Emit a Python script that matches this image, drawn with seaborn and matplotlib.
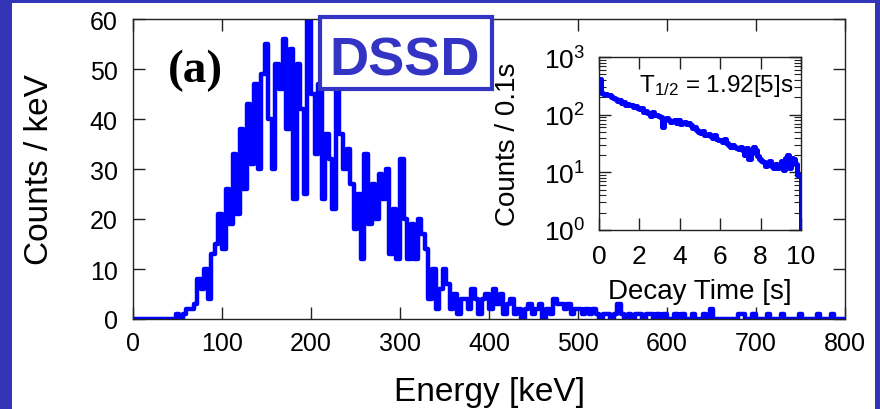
import numpy as np
import pandas as pd
import matplotlib
matplotlib.use("Agg")
import matplotlib.pyplot as plt
import seaborn as sns
from matplotlib.patches import Rectangle
from matplotlib.ticker import LogLocator, NullFormatter

# ---------------- data ----------------
energy_bin_kev = 4  # histogram bin width (keV)
energy_counts = [
    0, 0, 0, 0, 0, 0, 0, 0, 0, 0, 0, 0,                 # 0-48
    1, 0, 1, 2, 2, 3, 8, 6, 10, 4,                        # 48-88
    13, 15, 21, 14, 26, 19, 33, 21, 38, 26,               # 88-128
    43, 31, 47, 30, 49, 55, 40, 30, 51, 46,               # 128-168
    56, 38, 54, 24, 51, 42, 25, 60, 45, 33,               # 168-208
    47, 24, 37, 32, 22, 46, 37, 30, 34, 27,               # 208-248
    18, 25, 12, 33, 19, 27, 20, 29, 24, 30,               # 248-288
    13, 22, 12, 32, 20, 12, 19, 12, 20, 17,               # 288-328
    14, 4, 10, 2, 6, 10, 7, 2, 5, 1,                      # 328-368
    4, 4, 2, 6, 4, 1, 4, 5, 2, 6,                         # 368-408
    3, 5, 1, 3, 4, 1, 2, 0, 2, 3,                         # 408-448
    1, 2, 3, 0, 2, 1, 4, 3, 3, 2,                         # 448-488
    3, 1, 2, 2, 1, 2, 1, 2, 1, 0,                         # 488-528
    1, 1, 0, 1, 3, 1, 0, 1, 0, 1,                         # 528-568
    1, 0, 1, 1, 0, 1, 0, 1, 0, 0,                         # 568-608
    1, 0, 1, 0, 0, 1, 0, 0, 1, 0,                         # 608-648
    2, 0, 0, 0, 0, 0, 0, 0, 1, 1,                         # 648-688
    0, 0, 1, 0, 0, 0, 1, 0, 0, 0,                         # 688-728
    1, 0, 0, 0, 0, 1, 0, 0, 0, 0,                         # 728-768
    1, 0, 0, 0, 1, 0, 0, 0,                               # 768-800
]

time_bin_s = 0.1
decay_counts = [
    420, 240, 230, 225, 215, 220, 200, 195, 190, 175,
    180, 160, 165, 150, 155, 145, 150, 135, 140, 130,
    125, 130, 110, 115, 105, 95, 110, 100, 98, 95,
    90, 62, 85, 88, 80, 75, 78, 82, 72, 80,
    70, 72, 75, 68, 72, 65, 58, 60, 55, 50,
    48, 52, 45, 44, 46, 42, 40, 44, 38, 36,
    37, 34, 38, 32, 30, 28, 30, 27, 26, 25,
    28, 24, 20, 26, 17, 22, 28, 24, 19, 17,
    16, 15, 13, 14, 16, 13, 12, 14, 12, 13,
    16, 11, 18, 20, 12, 18, 17, 14, 9, 9,
]
decay_after_end = 0

main_xticks = [0, 100, 200, 300, 400, 500, 600, 700, 800]
main_yticks = [0, 10, 20, 30, 40, 50, 60]
inset_xticks = [0, 2, 4, 6, 8, 10]

# ---------------- style ----------------
sns.set_style("ticks")
plt.rcParams["font.family"] = ["Liberation Sans", "DejaVu Sans"]
plt.rcParams["mathtext.fontset"] = "custom"
plt.rcParams["mathtext.rm"] = "Liberation Sans"
plt.rcParams["mathtext.it"] = "Liberation Sans:italic"
plt.rcParams["mathtext.bf"] = "Liberation Sans:bold"
plt.rcParams["text.color"] = "black"
plt.rcParams["axes.labelcolor"] = "black"
plt.rcParams["xtick.labelcolor"] = "black"
plt.rcParams["ytick.labelcolor"] = "black"

BORDER = "#3434B6"
DSSD_C = "#3434C4"
LINE = "#0000FF"
SPINE = "#222222"

W, H = 880, 410
fig = plt.figure(figsize=(W / 100, H / 100), dpi=100, facecolor=BORDER)

# white slide area
fig.add_artist(Rectangle((12 / W, 0), (875 - 12) / W, (H - 4) / H,
                         transform=fig.transFigure, facecolor="white",
                         edgecolor="none", zorder=-5))

def fx(px):
    return px / W

def fy(py):
    return (H - py) / H

# ---------------- main axes ----------------
ax = fig.add_axes([fx(133), fy(320), fx(845) - fx(133), fy(20) - fy(320)])
ax.set_facecolor("white")

edges_E = np.arange(len(energy_counts) + 1) * energy_bin_kev
df_E = pd.DataFrame({"E": edges_E, "C": energy_counts + [energy_counts[-1]]})
sns.lineplot(data=df_E, x="E", y="C", ax=ax, drawstyle="steps-post",
             color=LINE, linewidth=3.2, estimator=None, sort=False)

ax.set_xlim(0, 800)
ax.set_ylim(0, 60)
ax.set_xticks(main_xticks)
ax.set_yticks(main_yticks)
for s in ax.spines.values():
    s.set_visible(True)
    s.set_color(SPINE)
    s.set_linewidth(1.0)
ax.tick_params(direction="in", top=True, right=True, length=8.5, width=1.0,
               color=SPINE, labelsize=18, labelcolor="black")
ax.tick_params(axis="x", pad=9)
ax.tick_params(axis="y", pad=11)
ax.set_xlabel("Energy [keV]", fontsize=24, color="black")
ax.set_ylabel("Counts / keV", fontsize=24, color="black")
ax.xaxis.set_label_coords(0.5, (320 - 377) / 300)
ax.yaxis.set_label_coords((55 - 133) / 712, 0.5)

# ---------------- inset axes ----------------
axi = fig.add_axes([fx(599), fy(231), fx(801) - fx(599), fy(58) - fy(231)])
axi.set_facecolor("white")
edges_t = np.round(np.arange(len(decay_counts) + 1) * time_bin_s, 3)
df_t = pd.DataFrame({"t": edges_t, "C": decay_counts + [decay_after_end]})
sns.lineplot(data=df_t, x="t", y="C", ax=axi, drawstyle="steps-post",
             color=LINE, linewidth=3.6, estimator=None, sort=False)
axi.set_yscale("log")
axi.set_xlim(0, 10)
axi.set_ylim(1, 1000)
axi.set_xticks(inset_xticks)
axi.yaxis.set_major_locator(LogLocator(base=10, numticks=10))
axi.yaxis.set_minor_locator(LogLocator(base=10, subs=np.arange(2, 10), numticks=20))
axi.yaxis.set_minor_formatter(NullFormatter())
for s in axi.spines.values():
    s.set_visible(True)
    s.set_color(SPINE)
    s.set_linewidth(1.0)
axi.tick_params(which="major", direction="in", top=True, right=True,
                length=8.5, width=1.0, color=SPINE, labelsize=19,
                labelcolor="black")
axi.tick_params(which="minor", direction="in", left=True, right=True,
                length=5, width=0.8, color=SPINE)
axi.tick_params(axis="x", pad=10)
axi.tick_params(axis="y", pad=10)
axi.set_xlabel("Decay Time [s]", fontsize=20, color="black")
axi.set_ylabel("Counts / 0.1s", fontsize=20, color="black")
axi.xaxis.set_label_coords(0.5, (231 - 279) / 173)
axi.yaxis.set_label_coords((521 - 599) / 202, 0.5)

# ---------------- annotations ----------------
fig.text(fx(793), fy(92), r"T$_{\mathdefault{1/2}}$ = 1.92[5]s", fontsize=17.5,
         ha="right", va="baseline", color="black", zorder=6)

fig.text(fx(168), fy(82), "(a)", fontsize=34, fontweight="bold",
         family=["Liberation Serif", "DejaVu Serif"], ha="left", va="baseline",
         color="black", zorder=6)

fig.add_artist(Rectangle((fx(320), fy(90)), fx(492) - fx(320), fy(18) - fy(90),
                         transform=fig.transFigure, facecolor="white",
                         edgecolor=DSSD_C, linewidth=3.0, zorder=5))
fig.text(fx(405), fy(75), "DSSD", fontsize=39, fontweight="bold",
         color=DSSD_C, ha="center", va="baseline", zorder=6)

fig.savefig("out.png", dpi=100, facecolor=BORDER)
